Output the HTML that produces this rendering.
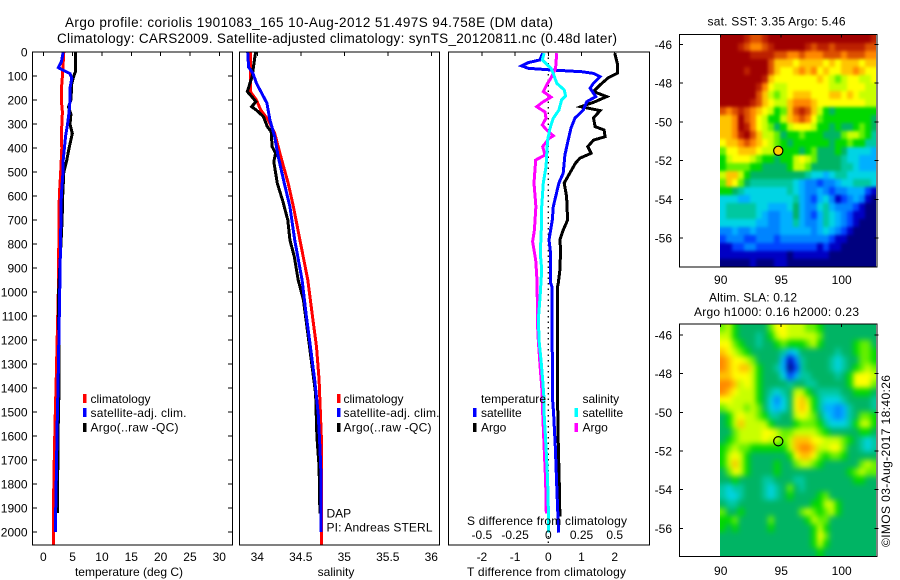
<!DOCTYPE html>
<html>
<head>
<meta charset="utf-8">
<title>Argo profile chart</title>
<style>
html,body{margin:0;padding:0;background:#fff;width:900px;height:580px;overflow:hidden}
svg{display:block}
text{font-family:"Liberation Sans",sans-serif;font-size:12px;fill:#000}
</style>
</head>
<body>
<svg id="chart" xmlns="http://www.w3.org/2000/svg" width="900" height="580" viewBox="0 0 900 580">
  <defs>
    <clipPath id="clip-sst"><rect x="720" y="34" width="156" height="233"/></clipPath>
    <clipPath id="clip-sla"><rect x="720" y="324" width="156" height="233"/></clipPath>
    <filter id="soft-sst" filterUnits="userSpaceOnUse" x="700" y="14" width="196" height="273" color-interpolation-filters="sRGB">
      <feGaussianBlur stdDeviation="1.6"/>
      <feComponentTransfer><feFuncA type="linear" slope="1000"/></feComponentTransfer>
    </filter>
    <filter id="soft-sla" filterUnits="userSpaceOnUse" x="700" y="304" width="196" height="273" color-interpolation-filters="sRGB">
      <feGaussianBlur stdDeviation="3"/>
      <feComponentTransfer><feFuncA type="linear" slope="1000"/></feComponentTransfer>
    </filter>
  </defs>
  <g clip-path="url(#clip-sst)"><g id="map-sst" filter="url(#soft-sst)"></g></g>
  <g clip-path="url(#clip-sla)"><g id="map-sla" filter="url(#soft-sla)"></g></g>
  <g id="marks"></g>
  <g id="axes"></g>
  <g id="labels">
    <text x="65" y="27" textLength="488" lengthAdjust="spacing" style="font-size:13.5px">Argo profile: coriolis 1901083_165 10-Aug-2012 51.497S 94.758E (DM data)</text>
    <text x="57" y="43" textLength="560" lengthAdjust="spacing" style="font-size:13.5px">Climatology: CARS2009. Satellite-adjusted climatology: synTS_20120811.nc (0.48d later)</text>

    <text x="129" y="576" text-anchor="middle">temperature (deg C)</text>
    <text x="336" y="576" text-anchor="middle">salinity</text>
    <text x="467" y="576" textLength="159">T difference from climatology</text>
    <text x="467" y="525" textLength="160">S difference from climatology</text>

    <rect x="83" y="394" width="3.5" height="9" fill="#ff0000"/>
    <rect x="83" y="408" width="3.5" height="9" fill="#0000ff"/>
    <rect x="83" y="423" width="3.5" height="9" fill="#000000"/>
    <text x="90.5" y="403">climatology</text>
    <text x="90.5" y="417" textLength="96">satellite-adj. clim.</text>
    <text x="90.5" y="431.5" textLength="88">Argo(..raw -QC)</text>

    <rect x="337" y="394" width="3.5" height="9" fill="#ff0000"/>
    <rect x="337" y="408" width="3.5" height="9" fill="#0000ff"/>
    <rect x="337" y="423" width="3.5" height="9" fill="#000000"/>
    <text x="343.5" y="403">climatology</text>
    <text x="343.5" y="417" textLength="96">satellite-adj. clim.</text>
    <text x="343.5" y="431.5" textLength="88">Argo(..raw -QC)</text>
    <text x="326.5" y="517.5">DAP</text>
    <text x="326.5" y="531.5" textLength="106">PI: Andreas STERL</text>

    <text x="481" y="403" textLength="65">temperature</text>
    <rect x="473" y="408" width="3.5" height="9" fill="#0000ff"/>
    <rect x="473" y="423" width="3.5" height="9" fill="#000000"/>
    <text x="481" y="417">satellite</text>
    <text x="481" y="431.5">Argo</text>
    <text x="582.5" y="403">salinity</text>
    <rect x="574.5" y="408" width="3.5" height="9" fill="#00ffff"/>
    <rect x="574.5" y="423" width="3.5" height="9" fill="#ff00ff"/>
    <text x="582.5" y="417">satellite</text>
    <text x="582.5" y="431.5">Argo</text>

    <text x="707.5" y="25.5" textLength="138">sat. SST: 3.35 Argo: 5.46</text>
    <text x="709" y="301.5" textLength="88">Altim. SLA: 0.12</text>
    <text x="694" y="316" textLength="165">Argo h1000: 0.16 h2000: 0.23</text>
    <text transform="translate(890,547) rotate(-90)" textLength="172">©IMOS 03-Aug-2017 18:40:26</text>
  </g>
</svg>
<script>
// ---------- profile panel data ----------
const depthTicks = [0,100,200,300,400,500,600,700,800,900,1000,1100,1200,1300,1400,1500,1600,1700,1800,1900,2000];
const tempTicks = [0,5,10,15,20,25,30];
const salTicks = [34,34.5,35,35.5,36];
const diffTicks = [-2,-1,0,1,2];
const diffSalLabels = ["-0.5","-0.25","0","0.25","0.5"];

const tempClimDepth = [0,100,160,200,250,350,400,500,600,1000,1400,1550,1750,1950,2054];
const tempClimValue = [3.5,3.25,3.07,3.07,3.25,3.07,3.15,2.96,2.73,2.55,2.16,2.0,1.82,1.7,1.7];
const tempSatDepth = [0,40,65,80,90,110,150,200,250,300,350,450,500,600,1000,1400,1500,1800,2000];
const tempSatValue = [3.4,3.1,2.55,3.7,4.55,4.85,4.55,4.55,4.4,4.15,3.8,3.4,3.35,3.07,2.8,2.5,2.4,2.2,2.05];
const tempArgoDepth = [0,80,100,130,200,230,260,300,340,400,450,500,600,700,1000,1400,1600,1700,1800,1921];
const tempArgoValue = [5.5,5.5,5.2,4.85,4.7,4.3,4.7,4.55,4.95,4.4,4.0,3.5,3.3,3.2,2.6,2.68,2.5,2.5,2.4,2.4];

const salClimDepth = [0,100,165,200,242,283,339,436,547,644,783,950,1089,1228,1367,1506,1644,2054];
const salClimValue = [33.92,33.92,33.92,33.99,34.04,34.125,34.2,34.27,34.355,34.415,34.49,34.58,34.63,34.68,34.71,34.725,34.74,34.74];
const salSatDepth = [0,63,89,130,171,213,283,353,436,547,644,783,950,1089,1228,1367,1506,1644,1783,2000];
const salSatValue = [33.89,33.9,33.95,33.99,34.05,34.11,34.145,34.2,34.24,34.31,34.375,34.43,34.515,34.56,34.61,34.66,34.7,34.72,34.735,34.735];
const salArgoDepth = [0,75,103,165,175,207,228,242,269,311,332,394,422,457,547,617,700,783,853,950,1033,1172,1311,1422,1603,1728,1922];
const salArgoValue = [33.98,33.95,33.94,33.885,33.91,33.985,33.935,33.99,34.07,34.115,34.16,34.17,34.21,34.19,34.23,34.29,34.35,34.375,34.425,34.47,34.53,34.58,34.63,34.67,34.685,34.71,34.72];

const diffTArgoDepth = [5,54,88,108,137,165,186,207,228,244,275,311,325,353,367,394,422,442,463,546,603,700,742,783,825,908,963,983,1450,1640,1800,1936];
const diffTArgoValue = [2.0,2.09,2.09,1.8,1.56,1.36,1.76,1.41,0.985,1.56,1.36,1.41,1.68,1.71,1.36,1.19,1.29,0.955,0.82,0.48,0.55,0.58,0.45,0.35,0.37,0.35,0.3,0.27,0.28,0.3,0.33,0.35];
const diffTSatDepth = [5,33,44,58,68,75,82,89,103,130,151,186,207,242,276,318,367,429,505,546,644,700,742,783,839,963,978,1242,1260,1450,1506,1644,1825,2003];
const diffTSatValue = [-0.17,-0.25,-0.6,-0.8,-0.6,0.1,1.0,1.36,1.56,1.36,1.26,1.43,1.16,1.05,0.8,0.68,0.6,0.5,0.45,0.32,0.15,0.12,0.07,0.02,0.07,0.07,0.11,0.11,0.13,0.13,0.16,0.21,0.26,0.31];
const diffSSatDepth = [5,33,68,89,130,158,183,200,242,276,318,367,478,546,644,700,839,908,1019,1117,1214,1283,1367,1450,1506,1644,1783,1900,2003];
const diffSSatValue = [-0.032,-0.045,0.02,0.038,0.063,0.12,0.13,0.1,0.08,0.038,0.013,-0.005,-0.017,-0.038,-0.05,-0.05,-0.06,-0.05,-0.062,-0.075,-0.068,-0.055,-0.042,-0.032,-0.032,-0.017,-0.005,0,0];
const diffSArgoDepth = [5,68,89,108,137,165,188,207,228,250,276,304,325,349,360,394,429,450,546,644,742,790,867,950,1033,1117,1200,1311,1394,1506,1644,1783,1922];
const diffSArgoValue = [0.063,0.055,0.038,0.02,-0.012,-0.038,0.02,-0.038,-0.087,-0.025,-0.017,-0.045,-0.012,0.038,0.005,-0.042,-0.025,-0.095,-0.108,-0.093,-0.105,-0.118,-0.095,-0.085,-0.083,-0.083,-0.075,-0.062,-0.05,-0.042,-0.032,-0.02,-0.015];

// ---------- map data ----------
const mapLonTicks = [90,95,100];
const mapLatTicks = [-46,-48,-50,-52,-54,-56];
const argoLon = 94.758;
const argoLat = -51.497;
const sstGrid = [
[16,16,16,16,15,14,14,15,16,16,16,16,16,16,16,16,16,16,16,16,16,16,16,16,16,15],
[16,16,16,15,14,13,13,14,15,16,16,16,16,16,15,14,15,15,14,15,15,15,15,15,14,14],
[16,16,16,16,16,15,15,15,15,14,14,13,13,14,13,13,13,14,14,14,13,14,14,14,13,13],
[16,16,16,16,16,16,16,16,14,12,12,12,11,12,12,12,12,11,12,11,12,12,12,11,12,12],
[16,16,16,16,15,16,16,16,14,12,11,11,12,13,12,13,11,12,11,11,12,12,13,12,11,11],
[16,16,16,16,16,16,16,15,12,11,11,11,11,11,11,11,12,11,10,9,10,11,11,10,10,11],
[16,16,16,16,16,16,15,13,11,10,10,11,11,11,11,11,11,11,10,10,10,11,11,11,10,10],
[16,16,16,16,16,16,14,12,10,9,10,11,12,12,12,11,11,11,12,12,11,12,11,10,10,10],
[16,16,16,16,16,15,14,12,11,10,10,12,13,13,13,12,11,11,11,11,11,11,11,11,10,10],
[14,13,14,15,14,13,12,11,10,8,9,12,14,15,14,12,10,8,7,8,8,8,8,8,8,8],
[12,12,13,16,14,13,11,10,8,8,10,12,13,14,13,11,9,8,8,8,8,8,8,8,8,7],
[12,12,13,16,15,13,11,10,9,7,8,10,11,11,11,10,8,8,7,8,7,7,8,9,8,7],
[12,12,13,15,16,14,12,10,10,9,7,8,8,9,8,8,8,7,7,7,9,10,10,9,8,6],
[11,12,12,13,14,13,12,11,10,9,8,7,8,8,8,8,8,8,7,8,8,9,8,8,6,6],
[9,11,11,12,12,12,11,10,10,9,8,8,8,7,8,9,7,7,7,8,7,5,5,5,5,4],
[8,10,11,11,11,10,9,8,8,7,8,8,10,11,10,9,7,7,7,7,6,5,5,4,4,4],
[8,9,9,9,9,8,8,7,7,7,7,8,10,10,9,7,7,7,7,7,6,6,5,4,4,4],
[10,12,12,10,8,7,7,7,7,7,7,7,7,7,6,5,5,4,5,6,6,5,5,5,5,5],
[9,12,11,9,7,6,6,6,6,6,6,6,5,4,3,3,2,3,3,4,5,5,6,6,6,5],
[8,8,7,6,5,5,5,5,5,5,5,6,5,4,3,3,4,3,2,3,3,4,4,4,2,1],
[5,5,5,4,4,5,5,5,5,5,5,5,6,4,3,2,4,5,3,1,2,3,4,3,1,0],
[5,6,6,6,6,6,5,5,4,4,4,5,7,4,3,3,5,6,4,3,3,3,2,1,0,0],
[5,6,6,6,6,6,5,4,3,3,4,4,7,4,3,2,4,6,5,4,3,2,1,1,0,0],
[5,5,5,5,5,5,4,4,3,3,4,4,6,4,3,3,4,6,5,4,3,2,1,0,0,0],
[3,3,4,3,3,4,3,3,3,3,4,4,4,4,4,3,4,5,4,3,2,1,0,0,0,0],
[2,3,3,3,2,2,3,3,3,2,3,3,3,3,3,3,3,3,2,1,1,0,0,0,0,0],
[1,1,2,2,3,3,2,2,2,2,2,2,2,2,2,2,1,2,1,1,0,0,0,0,0,0],
[1,1,1,1,1,1,1,1,1,1,1,0,1,1,1,1,1,1,0,0,0,0,0,0,0,0],
[0,0,0,0,0,1,0,0,0,1,1,0,0,0,0,0,0,0,0,0,0,0,0,0,0,0]
];
const slaGrid = [
[9,10,8,7,7,7,7,7,9,11,11,10,10,10,9,9,8,7,7,7,7,7,7,7,7,7],
[10,10,8,7,7,7,6,7,8,10,11,10,10,10,10,10,9,7,7,7,7,7,7,7,7,7],
[11,11,9,8,7,7,6,7,7,8,9,8,8,8,9,10,8,7,7,7,7,7,8,9,9,7],
[12,11,10,9,8,7,7,7,7,7,6,4,5,7,7,7,7,7,7,6,7,7,8,9,9,8],
[13,12,11,11,10,9,7,7,7,7,4,1,3,6,7,7,7,7,6,5,6,7,7,9,9,8],
[13,12,11,12,12,10,8,7,7,6,4,0,2,6,7,7,7,7,6,5,6,7,8,9,10,9],
[12,12,11,11,11,10,8,7,7,7,5,2,4,6,6,7,7,7,7,6,7,8,11,11,11,10],
[13,13,12,10,11,10,8,7,7,7,7,6,7,7,6,6,7,7,7,7,7,8,11,11,11,9],
[13,12,11,10,10,10,8,7,6,5,6,7,10,10,8,7,6,6,6,6,7,7,8,8,8,7],
[11,11,10,10,10,10,8,7,5,3,5,7,11,12,10,8,6,5,5,5,6,7,7,7,7,6],
[9,10,10,10,9,10,9,7,5,4,5,7,11,12,11,8,6,4,4,3,4,6,7,7,7,6],
[7,8,10,11,10,10,9,8,6,6,7,7,10,11,10,9,7,5,4,3,4,6,7,9,9,8],
[7,8,10,12,10,10,10,10,8,7,7,7,8,9,9,9,8,6,5,5,5,6,8,10,10,8],
[7,7,9,10,10,10,10,11,11,10,9,9,10,10,10,10,9,8,7,7,7,7,7,8,8,7],
[7,8,9,10,10,10,10,11,10,10,9,10,12,12,12,11,11,10,10,10,9,8,7,6,5,6],
[8,9,10,9,9,8,8,8,8,8,8,10,12,13,13,12,10,10,11,11,9,7,7,6,5,6],
[8,10,11,10,8,7,7,7,7,7,7,8,11,12,12,11,9,8,9,9,8,7,7,7,7,7],
[8,10,12,10,8,7,7,7,7,8,7,7,9,10,10,9,8,7,7,7,7,7,7,9,10,9],
[7,9,11,10,8,7,7,7,7,8,7,7,7,7,7,7,7,7,7,7,7,8,9,10,9,9],
[7,7,8,7,7,7,7,6,6,7,7,7,6,6,7,7,7,7,7,7,7,7,8,8,7,7],
[6,5,6,6,7,7,7,6,5,6,7,9,7,6,7,7,7,7,7,7,7,7,7,7,7,7],
[6,5,5,6,7,7,7,6,5,6,7,8,7,7,7,7,8,9,7,7,7,7,7,7,7,7],
[7,6,6,7,7,7,7,7,7,7,7,7,7,7,7,8,8,10,10,8,7,7,7,7,7,7],
[9,7,7,8,7,7,7,7,7,7,7,7,7,9,10,9,8,9,10,8,7,7,7,7,7,7],
[8,8,9,7,7,7,7,7,9,7,7,7,7,7,8,10,9,9,7,7,7,7,7,7,7,7],
[8,7,8,7,7,7,7,7,8,7,7,7,7,7,7,8,10,8,7,7,7,7,7,7,7,7],
[7,7,7,7,7,7,7,7,7,7,7,7,7,7,7,8,11,9,7,7,7,7,7,7,7,7],
[7,7,7,7,7,7,7,7,7,7,7,7,7,7,7,8,10,8,7,7,7,7,7,7,7,7],
[7,7,7,7,7,7,7,7,7,7,7,7,7,7,7,7,8,7,7,7,7,7,7,7,7,7]
];

// ---------- rendering ----------
const NS = 'http://www.w3.org/2000/svg';
const gMarks = document.getElementById('marks');
const gAxes = document.getElementById('axes');
const palette = ['#00007f','#0000c4','#0044ff','#0084ff','#00b0ff','#00d4e4','#00c8a0','#00b464','#00d800','#64f000','#c8ff00','#ffff00','#ffc400','#ff8800','#dc5000','#bc2000','#a00000'];

function mk(tag, attrs, parent) {
  const el = document.createElementNS(NS, tag);
  for (const k in attrs) el.setAttribute(k, attrs[k]);
  parent.appendChild(el);
  return el;
}
function yDepth(d) { return 52 + 0.24 * d; }
const xTemp = v => 43.3 + 5.867 * v;
const xSal = v => 257.3 + 87 * (v - 34);
const xDiffT = v => 548.3 + 33.2 * v;
const xDiffS = v => 548.3 + 132.8 * v;

function drawProfile(depths, values, xf, color, name) {
  const pts = depths.map((d, i) => xf(values[i]).toFixed(1) + ',' + yDepth(d).toFixed(1)).join(' ');
  const el = mk('polyline', {points: pts, fill: 'none', stroke: color, 'stroke-width': 3, 'shape-rendering': 'crispEdges'}, gMarks);
  
  
}
function hLine(x1, x2, y, sw) {
  return mk('line', {x1: x1, x2: x2, y1: y, y2: y, stroke: '#000', 'stroke-width': sw || 1, 'shape-rendering': 'crispEdges'}, gAxes);
}
function vLine(x, y1, y2, sw) {
  return mk('line', {x1: x, x2: x, y1: y1, y2: y2, stroke: '#000', 'stroke-width': sw || 1, 'shape-rendering': 'crispEdges'}, gAxes);
}
function drawFrame(l, r, t, b, name) {
  const el = mk('rect', {x: l, y: t, width: r - l, height: b - t, fill: 'none', stroke: '#000', 'stroke-width': 1.3, 'shape-rendering': 'crispEdges'}, gAxes);
  
  
}
function label(x, y, txt, anchor) {
  return mk('text', {x: x, y: y, 'text-anchor': anchor}, gAxes);
}

// Panel 1: temperature
drawProfile(tempClimDepth, tempClimValue, xTemp, '#ff0000', 'temperature-climatology-line');
drawProfile(tempArgoDepth, tempArgoValue, xTemp, '#000000', 'temperature-argo-line');
drawProfile(tempSatDepth, tempSatValue, xTemp, '#0000ff', 'temperature-satellite-line');
drawFrame(32.5, 232.5, 52, 545, 'temperature-panel-frame');
depthTicks.forEach(d => {
  const y = yDepth(d);
  const t1 = hLine(32.5, 37, y);
  
  
  const t2 = hLine(228, 232.5, y);
  
  
  const lb = label(27.5, y + 4.5, d, 'end');
  lb.textContent = d;
  
  
});
tempTicks.forEach(v => {
  const t = vLine(xTemp(v), 52, 56);
  
  
  const lb = label(xTemp(v), 561, v, 'middle');
  lb.textContent = v;
  
  
});

// Panel 2: salinity
drawProfile(salClimDepth, salClimValue, xSal, '#ff0000', 'salinity-climatology-line');
drawProfile(salArgoDepth, salArgoValue, xSal, '#000000', 'salinity-argo-line');
drawProfile(salSatDepth, salSatValue, xSal, '#0000ff', 'salinity-satellite-line');
drawFrame(239.5, 439.5, 52, 545, 'salinity-panel-frame');
salTicks.forEach(v => {
  const t = vLine(xSal(v), 52, 56);
  
  
  const lb = label(xSal(v), 561, v, 'middle');
  lb.textContent = v;
  
  
});

// Panel 3: differences
const zeroLine = mk('line', {x1: xDiffT(0), x2: xDiffT(0), y1: yDepth(0), y2: 545, stroke: '#000', 'stroke-width': 1.3, 'stroke-dasharray': '1.5 4'}, gMarks);


drawProfile(diffTArgoDepth, diffTArgoValue, xDiffT, '#000000', 'temperature-difference-argo-line');
drawProfile(diffTSatDepth, diffTSatValue, xDiffT, '#0000ff', 'temperature-difference-satellite-line');
drawProfile(diffSArgoDepth, diffSArgoValue, xDiffS, '#ff00ff', 'salinity-difference-argo-line');
drawProfile(diffSSatDepth, diffSSatValue, xDiffS, '#00ffff', 'salinity-difference-satellite-line');
drawFrame(448.5, 649.5, 52, 545, 'difference-panel-frame');
diffTicks.forEach((v, i) => {
  const t = vLine(xDiffT(v), 52, 56);
  
  
  const lb = label(xDiffT(v), 561, v, 'middle');
  lb.textContent = v;
  
  
  const ls = label(xDiffT(v), 539, diffSalLabels[i], 'middle');
  ls.textContent = diffSalLabels[i];
  
  
});

// Maps
function levelColor(v) {
  const c = Math.max(0, Math.min(palette.length - 1, v));
  return palette[Math.round(c)];
}
function drawMap(grid, cfg) {
  const target = document.getElementById(cfg.groupId);
  const lonX = lon => 720.7 + (lon - 90) * 12.1;
  const latY = lat => cfg.y46 + (-46 - lat) * cfg.pxPerDeg;
  const stepLon = 0.5;
  const stepLat = (cfg.bottom - cfg.top) / grid.length / cfg.pxPerDeg;
  const topLat = -46 + (cfg.y46 - cfg.top) / cfg.pxPerDeg;
  grid.forEach((row, r) => {
    row.forEach((val, c) => {
      const lon0 = 89.94 + c * stepLon;
      const lat0 = topLat - r * stepLat;
      const x0 = Math.round(lonX(lon0));
      const x1 = Math.round(lonX(lon0 + stepLon));
      const y0 = Math.round(latY(lat0));
      const y1 = Math.round(latY(lat0 - stepLat));
      const cell = mk('rect', {x: x0, y: y0, width: x1 - x0, height: y1 - y0, fill: levelColor(val), 'shape-rendering': 'crispEdges'}, target);
      
      
    });
  });
  drawFrame(679.5, 877, cfg.top, cfg.bottom, cfg.name + '-frame');
  mapLatTicks.forEach(lat => {
    const y = latY(lat);
    const tl = hLine(679.5, 683, y);
    
    
    const tr = hLine(874.5, 878.5, y);
    
    
    const lb = label(672, y + 4.5, lat, 'end');
    lb.textContent = lat;
    
    
  });
  mapLonTicks.forEach(lon => {
    const t = vLine(lonX(lon), cfg.top, cfg.top + 3);
    
    
    const lb = label(lonX(lon), cfg.labelY, lon, 'middle');
    lb.textContent = lon;
    
    
  });
  const m = mk('circle', {cx: lonX(argoLon), cy: latY(argoLat), r: 4.6, fill: cfg.marker, stroke: '#000', 'stroke-width': 1.2}, gAxes);
  
  
}
drawMap(sstGrid, {name: 'sst-map', groupId: 'map-sst', top: 34.5, bottom: 267, y46: 44.3, pxPerDeg: 19.37, labelY: 284, marker: '#ffcc00'});
drawMap(slaGrid, {name: 'sla-map', groupId: 'map-sla', top: 324, bottom: 556.5, y46: 335, pxPerDeg: 19.33, labelY: 575, marker: 'none'});
</script>
</body>
</html>
